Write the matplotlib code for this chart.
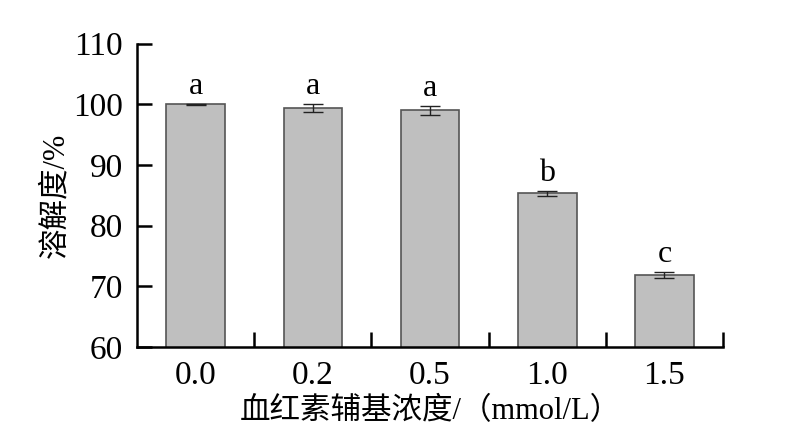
import numpy as np
from matplotlib import pyplot as plt

conc_labels = ['0.0', '0.2', '0.5', '1.0', '1.5']
solubility = [100.0, 99.4, 99.0, 85.3, 71.8]
errors = [0.1, 0.7, 0.7, 0.4, 0.5]
letters = ['a', 'a', 'a', 'b', 'c']

plt.rcParams['font.family'] = ['Liberation Serif', 'Noto Sans CJK SC']

fig = plt.figure(figsize=(7.96, 4.46), dpi=100)
ax = fig.add_axes([137 / 796, 1 - 347 / 446, (723 - 137) / 796, (347 - 43.5) / 446])

x = np.arange(len(solubility))
ax.bar(x, solubility, width=0.5, color='#bfbfbf', edgecolor='#555555', linewidth=1.2,
       yerr=errors, capsize=7, error_kw=dict(ecolor='#222222', elinewidth=1.0, capthick=1.0))
for xi, v, e, s in zip(x, solubility, errors, letters):
    ax.text(xi, v + e + 0.5, s, ha='center', va='bottom', fontsize=23)

ax.set_xlim(-0.5, 4.5)
ax.set_ylim(60, 110)
ax.set_yticks(np.arange(60, 111, 10))
ax.set_xticks(x)
ax.set_xticklabels(conc_labels)
ax.set_xticks(np.arange(0.5, 5, 1), minor=True)
ax.tick_params(axis='x', which='major', length=0, pad=10, labelsize=24)
ax.tick_params(axis='x', which='minor', direction='in', length=11, width=1.8)
ax.tick_params(axis='y', direction='in', length=11, width=1.8, labelsize=24, pad=10)

ax.spines['top'].set_visible(False)
ax.spines['right'].set_visible(False)
for sp in ['left', 'bottom']:
    ax.spines[sp].set_linewidth(1.8)

ax.set_ylabel('溶解度/%', fontsize=22, labelpad=2)
ax.set_xlabel('血红素辅基浓度/（mmol/L）', fontsize=22, labelpad=4)

fig.savefig('out.png', dpi=100)
